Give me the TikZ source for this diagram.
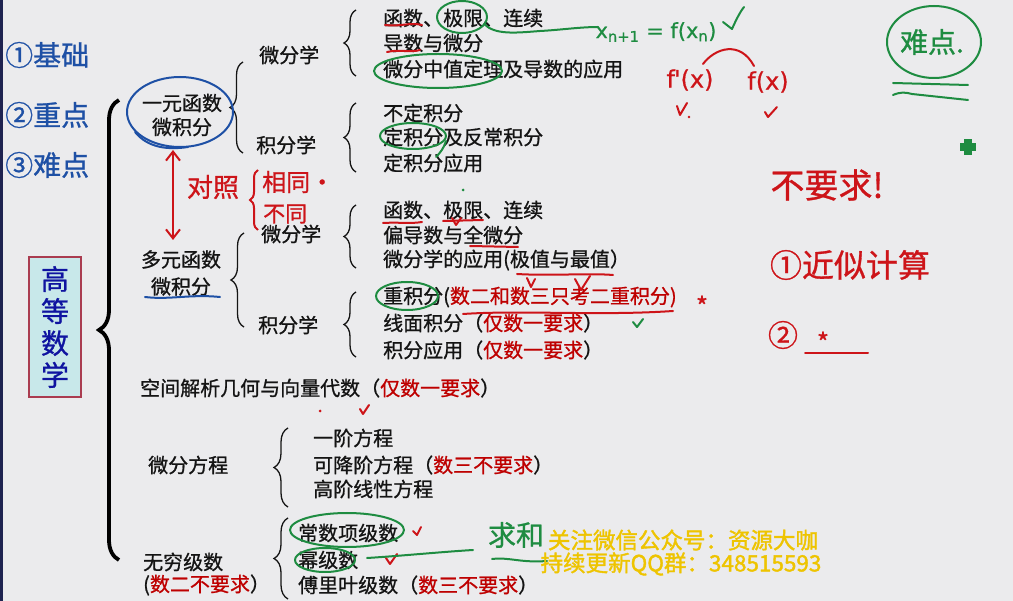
\documentclass[tikz,border=0pt]{standalone}
\usepackage{fontspec}
\setmainfont[FakeBold=0.9]{Noto Sans CJK SC}
\newfontfamily\wmfont[FakeBold=1.6]{Noto Sans CJK SC}
\newfontfamily\handlat[FakeBold=0.6]{DejaVu Sans}
\usetikzlibrary{decorations.pathreplacing,arrows.meta}
\definecolor{bgc}{RGB}{235,235,237}
\definecolor{navy}{RGB}{30,35,80}
\definecolor{tred}{RGB}{190,0,0}
\definecolor{tblk}{RGB}{20,20,20}
\definecolor{hred}{RGB}{205,20,25}
\definecolor{hgreen}{RGB}{30,140,65}
\definecolor{hblue}{RGB}{30,80,165}
\definecolor{boxfill}{RGB}{200,232,234}
\definecolor{boxdraw}{RGB}{170,60,80}
\definecolor{boxtext}{RGB}{15,20,160}
\definecolor{wmc}{RGB}{238,196,0}
\newcommand\redt[1]{\textcolor{tred}{#1}}
\begin{document}
\begin{tikzpicture}[x=1pt,y=-1pt,
 item/.style={anchor=west,inner sep=0pt,text=tblk,font=\fontsize{20}{24}\selectfont},
 topic/.style={align=center,inner sep=0pt,text=tblk,font=\fontsize{20}{24}\selectfont},
 brc/.style={decorate,decoration={brace,amplitude=#1},line width=1.3pt,draw=tblk},
 brc/.default=12pt,
 bigbrc/.style={decorate,decoration={brace,amplitude=20pt},line width=3.8pt,draw=black},
 hand/.style={line width=2pt,line cap=round,line join=round},
 hnote/.style={inner sep=0pt,font=\fontsize{#1}{#1}\selectfont},
 hlat/.style={inner sep=0pt,font=\handlat\fontsize{#1}{#1}\selectfont},
 wm/.style={inner sep=0pt,text=wmc,font=\wmfont\fontsize{22.5}{22.5}\selectfont}
]
\useasboundingbox (0,0) rectangle (1013,601);
\fill[bgc] (0,0) rectangle (1013,601);
\fill[navy] (0,0) rectangle (3,601);

% title box
\node[draw=boxdraw,fill=boxfill,line width=1.2pt,minimum width=52pt,minimum height=140pt,
      inner sep=0pt,align=center,text=boxtext,font=\fontsize{28}{32}\selectfont] (gd) at (55,327) {高\\等\\数\\学};
\draw[bigbrc] (119,560) -- (119,100);

% level 1
\node[topic] (yy) at (182,115) {一元函数\\微积分};
\node[topic,font=\fontsize{20}{27}\selectfont] (dy) at (181,273) {多元函数\\微积分};
\node[item] (kj) at (140,388) {空间解析几何与向量代数（\redt{仅数一要求}）};
\node[item] (wffc) at (148,465) {微分方程};
\node[item] (wq1) at (143,562) {无穷级数};
\node[item] (wq2) at (143,585) {(\redt{数二不要求}）};

% level 2
\draw[brc=13pt] (243,153) -- (243,62);
\node[item] (wf1) at (259,55) {微分学};
\node[item] (jf1) at (256,145) {积分学};
\draw[brc=13pt] (244,327) -- (244,233);
\node[item] (wf2) at (261,234) {微分学};
\node[item] (jf2) at (258,325) {积分学};

% level 3
\draw[brc] (356,76) -- (356,10);
\node[item] (a1) at (383,18) {函数、极限、连续};
\node[item] (a2) at (383,43) {导数与微分};
\node[item] (a3) at (383,69) {微分中值定理及导数的应用};
\draw[brc] (356,172) -- (356,103);
\node[item] (b1) at (383,113) {不定积分};
\node[item] (b2) at (383,137) {定积分及反常积分};
\node[item] (b3) at (383,163) {定积分应用};
\draw[brc] (356,268) -- (356,205);
\node[item] (c1) at (383,210) {函数、极限、连续};
\node[item] (c2) at (383,235) {偏导数与全微分};
\node[item] (c3) at (383,260) {微分学的应用(极值与最值）};
\draw[brc] (356,357) -- (356,292);
\node[item] (d1) at (383,297) {重积分(\redt{数二和数三只考二重积分)}};
\node[item] (d2) at (383,323) {线面积分（\redt{仅数一要求}）};
\node[item] (d3) at (383,350) {积分应用（\redt{仅数一要求}）};
\draw[brc=14pt] (288,507) -- (288,428);
\node[item] (e1) at (313,438) {一阶方程};
\node[item] (e2) at (313,465) {可降阶方程（\redt{数三不要求}）};
\node[item] (e3) at (313,489) {高阶线性方程};
\draw[brc=14pt] (288,599) -- (288,518);
\node[item] (f1) at (298,533) {常数项级数};
\node[item] (f2) at (298,560) {幂级数};
\node[item] (f3) at (298,585) {傅里叶级数（\redt{数三不要求}）};

% ---- handwriting: blue
\node[hnote=28,text=hblue,anchor=west] (jc) at (5,55) {①基础};
\node[hnote=28,text=hblue,anchor=west] (zd) at (5,115) {②重点};
\node[hnote=28,text=hblue,anchor=west] (ndl) at (5,165) {③难点};
\draw[hand,hblue] (180,112) ellipse [x radius=53, y radius=35];
\draw[hand,hblue] (135,132) .. controls (148,148) and (168,150) .. (188,147);
\draw[hand,hblue] (145,297) .. controls (170,300) and (190,294) .. (220,297);

% ---- red: compare
\draw[hand,hred,{Straight Barb[length=9pt,width=14pt]}-{Straight Barb[length=9pt,width=14pt]}] (173,150) -- (173,240);
\node[hnote=26,text=hred] (dz) at (213,187) {对照};
\draw[hred,line width=2pt,decorate,decoration={brace,amplitude=8pt}] (258,230) -- (258,170);
\node[hnote=24,text=hred,anchor=west] (xt) at (262,182) {相同·};
\node[hnote=22,text=hred,anchor=west] (bt) at (263,214) {不同};

% ---- row marks (one-variable)
\draw[hand,hred] (385,25) .. controls (400,27) and (410,22) .. (422,25);
\draw[hand,hred] (387,52) .. controls (400,49) and (410,53) .. (420,50);
\draw[hand,hgreen] (462,17) ellipse [x radius=25, y radius=16];
\draw[hand,hgreen] (484,24) .. controls (495,35) and (515,33) .. (540,31) .. controls (560,30) and (580,27) .. (598,27);
\node[hlat=21,text=hgreen] (xn) at (656,32) {x\textsubscript{n+1} = f(x\textsubscript{n})};
\draw[hand,hgreen] (723,22) -- (732,29) .. controls (736,20) and (740,12) .. (744,7);
\draw[hand,hgreen] (438,71) ellipse [x radius=64, y radius=17];
\draw[hand,hgreen] (413,136) ellipse [x radius=33, y radius=13];
\draw[hand,hgreen] (446,141) .. controls (444,148) and (440,153) .. (436,157);
\node[hlat=24,text=hred] (fp) at (690,80) {f\kern-1pt'(x)};
\node[hlat=24,text=hred] (fx) at (768,82) {f(x)};
\draw[hand,hred] (703,64) .. controls (715,48) and (740,40) .. (754,66);
\draw[hand,hred] (677,106) -- (680,115) -- (687,103);
\fill[hred] (689,117) circle (1.3);
\draw[hand,hred] (765,112) -- (768,117) -- (777,107);

% ---- top right
\draw[hand,hgreen] (934,42) ellipse [x radius=47, y radius=36];
\node[hnote=28,text=hgreen] (nd) at (932,42) {难点.};
\draw[hand,hgreen] (893,83) -- (968,85);
\draw[hand,hgreen] (893,95) .. controls (900,92) and (905,92) .. (912,94) -- (968,100);
\fill[hgreen] (964,139) rectangle (972,155);
\fill[hgreen] (960,143) rectangle (976,151);
\node[hnote=34,text=hred] (bq) at (827,185) {不要求!};
\node[hnote=32,text=hred] (js) at (850,265) {①近似计算};
\node[hnote=30,text=hred] (n2) at (783,335) {②};
\node[hnote=26,text=hred] (st2) at (823,342) {*};
\draw[hand,hred] (805,353) -- (868,353);
\node[hnote=26,text=hred] (st1) at (702,306) {*};

% ---- multivariable marks
\fill[hgreen] (463,190) circle (1.5);
\draw[hand,hred] (383,223) .. controls (400,222) and (410,224) .. (422,222);
\draw[hand,hred] (443,221) -- (483,220);
\draw[hand,hred] (452,218) -- (456,225) -- (461,218);
\draw[hand,hred] (470,246) -- (518,247);
\draw[hand,hred] (517,274) .. controls (550,276) and (590,273) .. (613,275);
\draw[hand,hred] (527,278) -- (531,287) -- (535,279);
\draw[hand,hred] (575,279) -- (581,290) -- (590,276);
\draw[hand,hgreen] (407,296) ellipse [x radius=31, y radius=14];
\draw[hand,hred] (463,314) .. controls (520,310) and (600,316) .. (673,311);
\draw[hand,hgreen] (633,322) -- (637,327) -- (643,319);

% ---- lower marks
\fill[hred] (320,411) circle (1.5);
\draw[hand,hred] (360,409) -- (363,414) -- (369,405);
\draw[hand,hgreen] (347,530) ellipse [x radius=57, y radius=17];
\draw[hand,hgreen] (325,560) ellipse [x radius=30, y radius=12];
\draw[hand,hred] (413,531) -- (417,535) -- (421,527);
\draw[hand,hred] (386,558) -- (390,564) -- (397,554);
\draw[hand,hgreen] (367,558) .. controls (400,556) and (440,552) .. (473,550);
\node[hnote=28,text=hgreen] (qh) at (516,535) {求和};
\draw[hand,hgreen] (492,559) .. controls (510,557) and (520,563) .. (547,561);

% ---- watermark
\node[wm] (w1) at (683,540) {关注微信公众号：资源大咖};
\node[wm] (w2) at (681,564) {持续更新QQ群：348515593};
\end{tikzpicture}
\end{document}
